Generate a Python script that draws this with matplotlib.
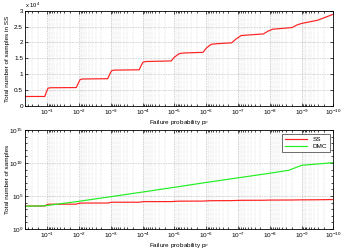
import math
import matplotlib
matplotlib.use("Agg")
import matplotlib.pyplot as plt
from matplotlib.ticker import LogLocator, FuncFormatter, MultipleLocator, NullFormatter

plt.rcParams["font.family"] = ["Liberation Sans", "DejaVu Sans"]
plt.rcParams["mathtext.fontset"] = "custom"
plt.rcParams["mathtext.rm"] = "Liberation Sans"
plt.rcParams["mathtext.it"] = "Liberation Sans:italic"

# ======================
# Data
# ======================
ss_p = [0.5, 10**-0.92, 10**-0.97, 10**-1.02, 10**-1.1,
        10**-1.91, 10**-1.97, 10**-2.03, 10**-2.1,
        10**-2.9, 10**-2.96, 10**-3.02, 10**-3.1,
        10**-3.89, 10**-3.95, 10**-4.01, 10**-4.1,
        10**-4.9, 10**-5.0, 10**-5.15, 10**-5.3,
        10**-5.9, 10**-6.0, 10**-6.15, 10**-6.3,
        10**-6.8, 10**-6.95, 10**-7.1, 10**-7.8,
        10**-7.95, 10**-8.1, 10**-8.7, 10**-8.85, 10**-9.0,
        10**-9.5, 10**-10]
ss_n = [3000, 3000, 4400, 5600, 5750,
        5800, 7100, 8300, 8500,
        8600, 9900, 11100, 11300,
        11400, 12700, 13800, 14000,
        14200, 15400, 16500, 16700,
        16900, 18200, 19400, 19600,
        19900, 21200, 22200, 22700,
        23600, 24200, 24700, 25500, 26000,
        27000, 28900]

dmc_p = [0.5, 10**-0.9, 1e-2, 1e-3, 1e-4, 10**-4.9, 1e-6, 1e-7, 1e-8,
         10**-8.6, 1e-9, 1e-10]
dmc_n = [2800, 3200, 10**4.2, 10**4.9, 10**5.6, 10**6.25, 10**7.05, 10**7.75,
         10**8.45, 10**8.9, 10**9.65, 10**10.05]

x_lim = (0.5, 1e-10)
FS = 4.6
RED = "#ff2020"
GREEN = "#22ee22"

fig = plt.figure(figsize=(3.44, 2.5), dpi=100)
ax1 = fig.add_axes([0.073, 0.576, 0.896, 0.381])
ax2 = fig.add_axes([0.073, 0.084, 0.896, 0.396])


def style(ax):
    ax.set_xscale("log")
    ax.set_xlim(*x_lim)
    ax.xaxis.set_major_locator(LogLocator(base=10, numticks=20))
    ax.xaxis.set_minor_locator(LogLocator(base=10, subs=range(2, 10), numticks=20))
    ax.xaxis.set_minor_formatter(NullFormatter())
    ax.grid(True, which="major", linestyle=":", color="#999999", linewidth=0.45)
    ax.grid(True, which="minor", axis="x", linestyle=":", color="#bbbbbb", linewidth=0.35)
    ax.tick_params(which="both", direction="in", top=True, right=True,
                   labelsize=FS, width=0.5, pad=1.5)
    ax.tick_params(which="major", length=2.5)
    ax.tick_params(which="minor", length=1.5)
    for s in ax.spines.values():
        s.set_linewidth(0.6)
    ax.set_xlabel("Failure probability p$_F$", fontsize=FS, labelpad=0.5)
    ax.yaxis.set_label_coords(-0.05, 0.5)


# ==== Top: samples in SS ====
ax1.plot(ss_p, ss_n, color=RED, linewidth=0.85)
style(ax1)
ax1.set_ylim(0, 30000)
ax1.yaxis.set_major_locator(MultipleLocator(5000))
ax1.yaxis.set_major_formatter(FuncFormatter(lambda v, pos: f"{v / 1e4:g}"))
ax1.set_ylabel("Total number of samples in SS", fontsize=FS)
ax1.text(0.0, 1.01, r"x 10$^4$", transform=ax1.transAxes, fontsize=FS - 0.4,
         ha="left", va="bottom")

# ==== Bottom: SS vs DMC ====
ax2.plot(ss_p, ss_n, color=RED, linewidth=0.85, label="SS")
ax2.plot(dmc_p, dmc_n, color=GREEN, linewidth=0.85, label="DMC")
style(ax2)
ax2.set_yscale("log")
ax2.set_ylim(1, 1e15)
ax2.set_yticks([1, 1e5, 1e10, 1e15])
ax2.yaxis.set_minor_locator(LogLocator(base=10, subs=(1.0,), numticks=20))
ax2.yaxis.set_minor_formatter(NullFormatter())
ax2.yaxis.set_major_formatter(FuncFormatter(
    lambda v, pos: r"10$^{%d}$" % round(math.log10(v))))
ax2.set_ylabel("Total number of samples", fontsize=FS)
leg = ax2.legend(loc="upper right", fontsize=FS, frameon=True, fancybox=False,
                 edgecolor="black", handlelength=3.5, borderpad=0.4,
                 labelspacing=0.3, borderaxespad=0.6)
leg.get_frame().set_linewidth(0.5)

fig.savefig("out.png", dpi=100)
